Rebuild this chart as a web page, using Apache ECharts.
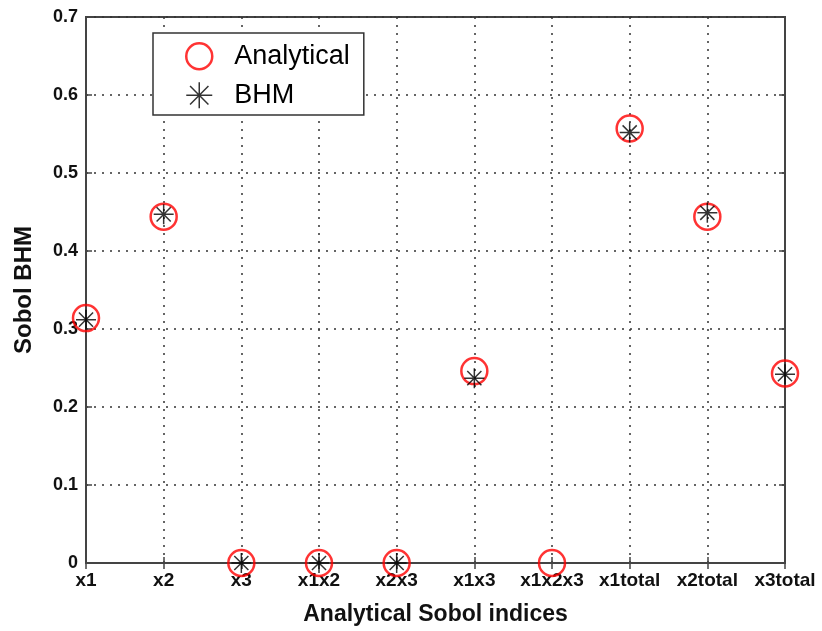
<!DOCTYPE html>
<html><head><meta charset="utf-8">
<script src="https://cdn.jsdelivr.net/npm/echarts@6/dist/echarts.min.js"></script>
<style>html,body{margin:0;padding:0;background:#fff}#c{width:822px;height:631px}</style>
</head><body><div id="c"></div>
<script>
const categories = ['x1','x2','x3','x1x2','x2x3','x1x3','x1x2x3','x1total','x2total','x3total'];
const analytical = [0.314, 0.444, 0, 0, 0, 0.246, 0, 0.557, 0.444, 0.243];
const bhm = [0.312, 0.447, 0, 0, 0, 0.237, null, 0.552, 0.449, 0.242];
const yTicks = [0, 0.1, 0.2, 0.3, 0.4, 0.5, 0.6, 0.7];

const FONT = 'Liberation Sans, Arial, sans-serif';
const star = 'path://M0,-10L0,10M-10,0L10,0M-7.07,-7.07L7.07,7.07M-7.07,7.07L7.07,-7.07';
const chart = echarts.init(document.getElementById('c'), null, {renderer: 'canvas'});
const axLine = {show: true, lineStyle: {color: '#444', width: 2}};
chart.setOption({
  animation: false,
  backgroundColor: '#fff',
  grid: {left: 86, right: 37, top: 17, bottom: 64, show: true, borderColor: '#444', borderWidth: 2},
  legend: {
    orient: 'vertical', left: 153, top: 33,
    backgroundColor: '#fff', borderColor: '#333', borderWidth: 1.5, borderRadius: 0,
    padding: [9, 14, 6, 32],
    itemWidth: 60, itemHeight: 26, itemGap: 11,
    textStyle: {fontFamily: FONT, fontSize: 27, fontWeight: 'normal', color: '#000', lineHeight: 26},
    data: [
      {name: 'Analytical', icon: 'circle', itemStyle: {color: 'rgba(0,0,0,0)', borderColor: '#f00', borderWidth: 2.5}},
      {name: 'BHM', icon: star, itemStyle: {color: '#000', borderColor: '#000', borderWidth: 1.5}}
    ]
  },
  xAxis: [{
    type: 'category', data: categories, boundaryGap: false, position: 'bottom',
    name: 'Analytical Sobol indices', nameLocation: 'middle', nameGap: 40,
    nameTextStyle: {fontFamily: FONT, fontSize: 23, fontWeight: 'bold', color: '#111'},
    axisLine: axLine,
    axisTick: {show: true, inside: true, length: 6, alignWithLabel: true, lineStyle: {color: '#444', width: 1.5}},
    axisLabel: {fontFamily: FONT, fontSize: 19, fontWeight: 'bold', color: '#111', margin: 8, interval: 0},
    splitLine: {show: true, lineStyle: {type: [2, 6], color: '#333', width: 1.5}}
  }, {
    type: 'category', data: categories, boundaryGap: false, position: 'top',
    axisLine: axLine,
    axisTick: {show: true, inside: true, length: 6, lineStyle: {color: '#444', width: 1.5}},
    axisLabel: {show: false}, splitLine: {show: false}
  }],
  yAxis: [{
    type: 'value', min: 0, max: 0.7, interval: 0.1, position: 'left',
    name: 'Sobol BHM', nameLocation: 'middle', nameGap: 50,
    nameTextStyle: {fontFamily: FONT, fontSize: 24, fontWeight: 'bold', color: '#111'},
    axisLine: axLine,
    axisTick: {show: true, inside: true, length: 6, lineStyle: {color: '#444', width: 1.5}},
    axisLabel: {fontFamily: FONT, fontSize: 18, fontWeight: 'bold', color: '#111', margin: 8,
      formatter: v => { const t = yTicks.find(x => Math.abs(x - v) < 1e-9); return t === undefined ? '' : String(t); }},
    splitLine: {show: true, lineStyle: {type: [2, 6], color: '#333', width: 1.5}}
  }, {
    type: 'value', min: 0, max: 0.7, interval: 0.1, position: 'right',
    axisLine: axLine,
    axisTick: {show: true, inside: true, length: 6, lineStyle: {color: '#444', width: 1.5}},
    axisLabel: {show: false}, splitLine: {show: false}
  }],
  series: [{
    name: 'Analytical', type: 'scatter', data: analytical, clip: false,
    symbol: 'circle', symbolSize: 26,
    itemStyle: {color: 'rgba(0,0,0,0)', borderColor: '#f00', borderWidth: 2.5}, z: 3
  }, {
    name: 'BHM', type: 'scatter', data: bhm, clip: false,
    symbol: star, symbolSize: 20,
    itemStyle: {color: '#000', borderColor: '#000', borderWidth: 1.5}, z: 4
  }]
});
</script></body></html>
